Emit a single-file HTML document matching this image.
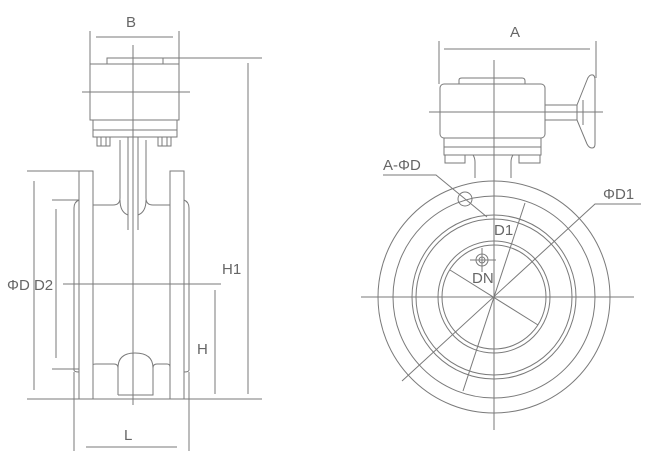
<!DOCTYPE html>
<html><head><style>
html,body{margin:0;padding:0;background:#fff;}
svg{display:block;}
text{font-family:"Liberation Sans",sans-serif;fill:#666;font-size:15px;}
</style></head><body>
<svg width="665" height="469" viewBox="0 0 665 469" xmlns="http://www.w3.org/2000/svg">
<g fill="none" stroke="#7a7a7a" stroke-width="1">
<!-- LEFT VIEW -->
<line x1="90" y1="31" x2="90" y2="66"/><line x1="179" y1="31" x2="179" y2="66"/>
<line x1="96" y1="37" x2="173" y2="37"/>
<rect x="107" y="58" width="56" height="6"/>
<line x1="163" y1="58" x2="262" y2="58"/>
<rect x="90" y="64" width="89" height="56"/>
<line x1="82" y1="92" x2="190" y2="92"/>
<rect x="93" y="120" width="84" height="17"/>
<line x1="93" y1="130" x2="177" y2="130"/>
<rect x="97" y="137" width="13" height="9"/><rect x="158" y="137" width="13" height="9"/>
<line x1="101" y1="137" x2="101" y2="146"/><line x1="106" y1="137" x2="106" y2="146"/>
<line x1="162" y1="137" x2="162" y2="146"/><line x1="167" y1="137" x2="167" y2="146"/>
<!-- neck -->
<path d="M120 140 V198 Q120 205 113 205 H93"/>
<path d="M146 140 V198 Q146 205 153 205 H170"/>
<path d="M120 200 Q120 212 128 215 V230"/>
<path d="M146 200 Q146 212 138 215 V230"/>
<line x1="128" y1="137" x2="128" y2="230"/><line x1="138" y1="137" x2="138" y2="230"/>
<line x1="133" y1="45" x2="133" y2="405"/>
<!-- flanges -->
<rect x="79" y="171" width="14" height="228"/>
<rect x="170" y="171" width="14" height="228"/>
<path d="M79 200 Q74 202 74 208 V370 Q74 372 79 372"/>
<path d="M184 200 Q189 202 189 208 V370 Q189 372 184 372"/>
<line x1="27" y1="171" x2="79" y2="171"/>
<line x1="52" y1="200" x2="79" y2="200"/>
<line x1="34" y1="181" x2="34" y2="390"/>
<line x1="56" y1="209" x2="56" y2="358"/>
<line x1="52" y1="369" x2="79" y2="369"/>
<!-- bottom body -->
<path d="M93 365 Q93 364 96 364 H114 Q118 364 118 368 M118 395 V368 Q118 353 135 353 Q153 353 153 368 V395 H118 M153 368 Q153 364 157 364 H167 Q170 364 170 367"/>
<line x1="27" y1="399" x2="262" y2="399"/>
<line x1="63" y1="284" x2="221" y2="284"/>
<line x1="248" y1="63" x2="248" y2="394"/>
<line x1="215" y1="290" x2="215" y2="394"/>
<line x1="74" y1="372" x2="74" y2="451"/><line x1="189" y1="372" x2="189" y2="451"/>
<line x1="86" y1="447" x2="177" y2="447"/>
<!-- RIGHT VIEW -->
<line x1="439" y1="41" x2="439" y2="84"/><line x1="596" y1="41" x2="596" y2="78"/>
<line x1="444" y1="49" x2="590" y2="49"/>
<path d="M459 84 V80 Q459 78 462 78 H522 Q525 78 525 81 V84"/>
<rect x="440" y="84" width="105" height="54" rx="4"/>
<line x1="429" y1="112" x2="603" y2="112"/>
<rect x="545" y="105" width="32" height="15"/>
<path d="M577 105 L587 80 Q589 74 593 75 Q595 76 595 80 V144 Q595 148 592 148 Q589 148 587 144 L577 120"/>
<line x1="583" y1="100" x2="583" y2="125"/>
<rect x="444" y="138" width="97" height="17"/>
<line x1="444" y1="147" x2="541" y2="147"/>
<rect x="445" y="155" width="20" height="8"/><rect x="519" y="155" width="21" height="8"/>
<path d="M473 155 Q475 158 475 162 V178"/><path d="M513 155 Q511 158 511 162 V178"/>
<line x1="494" y1="60" x2="494" y2="430"/>
<line x1="361" y1="297" x2="634" y2="297"/>
<circle cx="494" cy="297" r="116"/>
<circle cx="494" cy="297" r="101"/>
<circle cx="494" cy="297" r="82"/>
<circle cx="494" cy="297" r="78"/>
<circle cx="494" cy="297" r="56"/>
<circle cx="494" cy="297" r="52"/>
<circle cx="465" cy="199" r="7"/>
<path d="M383 175 H436 L487 217"/>
<line x1="525" y1="203" x2="463" y2="391"/>
<path d="M641 204 H595 L402 381"/>
<line x1="450" y1="270" x2="538" y2="325"/>
<circle cx="482" cy="260" r="6"/><circle cx="482" cy="260" r="3"/>
<line x1="470" y1="260" x2="496" y2="260"/><line x1="482" y1="248" x2="482" y2="272"/>
</g>
<text x="126" y="27">B</text>
<text x="222" y="274">H1</text>
<text x="197" y="354">H</text>
<text x="7" y="290">ΦD D2</text>
<text x="124" y="440">L</text>
<text x="510" y="37">A</text>
<text x="383" y="170">A-ΦD</text>
<text x="603" y="199">ΦD1</text>
<text x="494" y="235">D1</text>
<text x="472" y="283">DN</text>
</svg>
</body></html>
